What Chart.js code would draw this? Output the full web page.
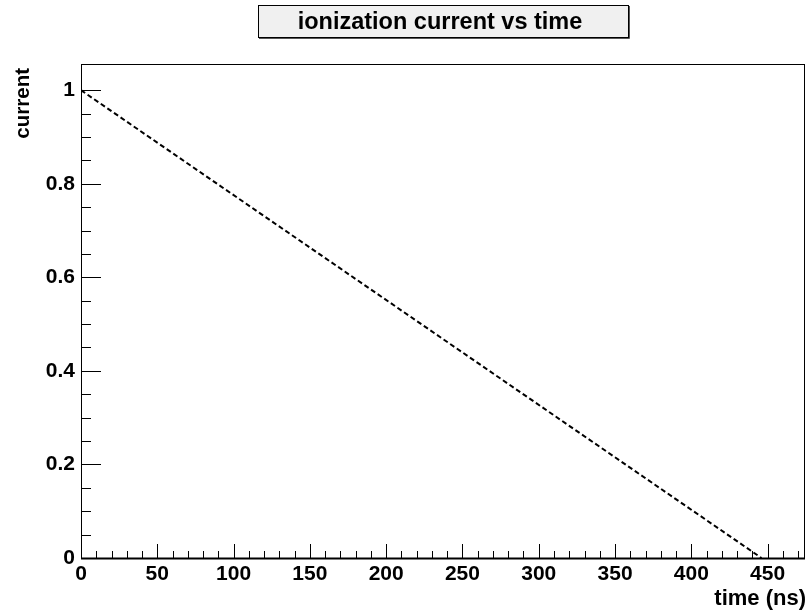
<!DOCTYPE html>
<html>
<head>
<meta charset="utf-8">
<script src="https://cdn.jsdelivr.net/npm/chart.js@4"></script>
<style>
html,body{margin:0;padding:0;background:#fff;}
canvas{display:block;}
</style>
</head>
<body>
<canvas id="c" width="807" height="611"></canvas>
<script>
// ---- data ----
const timeNs = [0, 446];
const currentVals = [1, 0];
const xTickVals = [0, 50, 100, 150, 200, 250, 300, 350, 400, 450];
const xTickLabels = ['0', '50', '100', '150', '200', '250', '300', '350', '400', '450'];
const yTickVals = [0, 0.2, 0.4, 0.6, 0.8, 1];
const yTickLabels = ['0', '0.2', '0.4', '0.6', '0.8', '1'];
const titleText = 'ionization current vs time';
const xTitle = 'time (ns)';
const yTitle = 'current';

const FONT = '"Liberation Sans", Arial, Helvetica, sans-serif';

const framePlugin = {
  id: 'frame',
  afterDraw(chart) {
    const ctx = chart.ctx;
    const a = chart.chartArea;
    const xs = chart.scales.x, ys = chart.scales.y;
    ctx.save();
    // frame
    ctx.strokeStyle = '#000';
    ctx.lineWidth = 1;
    ctx.strokeRect(Math.round(a.left) + 0.5, Math.round(a.top) + 0.5,
                   Math.round(a.right - a.left) - 1, Math.round(a.bottom - a.top));
    ctx.beginPath();
    ctx.lineWidth = 2;
    ctx.moveTo(a.left, Math.round(a.bottom) + 0.5);
    ctx.lineTo(a.right, Math.round(a.bottom) + 0.5);
    ctx.stroke();
    // x ticks
    ctx.lineWidth = 1;
    ctx.beginPath();
    for (let v = 0; v <= xs.max + 1e-9; v += 10) {
      const px = Math.round(xs.getPixelForValue(v)) + 0.5;
      const major = Math.abs(v % 50) < 1e-6;
      const len = major ? 14 : 7;
      ctx.moveTo(px, a.bottom);
      ctx.lineTo(px, a.bottom - len);
    }
    // y ticks
    for (let i = 0; i <= 20; i++) {
      const v = i * 0.05;
      if (v > ys.max) break;
      const py = Math.round(ys.getPixelForValue(v)) + 0.5;
      const major = i % 4 === 0;
      const len = major ? 20 : 10;
      ctx.moveTo(a.left, py);
      ctx.lineTo(a.left + len, py);
    }
    ctx.stroke();

    // axis titles
    ctx.fillStyle = '#000';
    ctx.textBaseline = 'alphabetic';
    ctx.font = 'bold 22px ' + FONT;
    ctx.textAlign = 'right';
    ctx.fillText(xTitle, a.right + 1, 605);
    ctx.save();
    ctx.font = 'bold 20.5px ' + FONT;
    ctx.translate(29, a.top + 4);
    ctx.rotate(-Math.PI / 2);
    ctx.textAlign = 'right';
    ctx.fillText(yTitle, 0, 0);
    ctx.restore();

    // title box
    const bx = 258, by = 5, bw = 370, bh = 32;
    ctx.fillStyle = '#f0f0f0';
    ctx.fillRect(bx, by, bw, bh);
    ctx.strokeStyle = '#000';
    ctx.lineWidth = 1;
    ctx.strokeRect(bx + 0.5, by + 0.5, bw, bh);
    ctx.strokeStyle = '#555';
    ctx.beginPath();
    ctx.moveTo(bx + bw + 1.5, by + 1);
    ctx.lineTo(bx + bw + 1.5, by + bh + 1.5);
    ctx.lineTo(bx + 1, by + bh + 1.5);
    ctx.stroke();
    ctx.fillStyle = '#000';
    ctx.font = 'bold 23.5px ' + FONT;
    ctx.textAlign = 'center';
    ctx.fillText(titleText, 440, 29);
    ctx.restore();
  }
};

new Chart(document.getElementById('c'), {
  type: 'scatter',
  data: {
    datasets: [{
      data: timeNs.map((t, i) => ({ x: t, y: currentVals[i] })),
      showLine: true,
      borderColor: '#000',
      borderWidth: 2,
      borderDash: [5, 3],
      pointRadius: 0,
      fill: false
    }]
  },
  options: {
    responsive: false,
    animation: false,
    devicePixelRatio: 1,
    layout: { padding: { top: 64, right: 2, left: 0, bottom: 0 } },
    plugins: { legend: { display: false }, title: { display: false }, tooltip: { enabled: false } },
    scales: {
      x: {
        type: 'linear', min: 0, max: 474.5,
        grid: { display: false, drawTicks: false },
        border: { display: false },
        afterBuildTicks: s => { s.ticks = xTickVals.map(v => ({ value: v })); },
        afterFit: s => { s.height = 53; },
        ticks: {
          autoSkip: false, maxRotation: 0, padding: 4,
          color: '#000',
          font: { family: FONT, size: 21, weight: 'bold' },
          callback: (v) => { const i = xTickVals.indexOf(v); return i >= 0 ? xTickLabels[i] : ''; }
        }
      },
      y: {
        type: 'linear', min: 0, max: 1.056,
        grid: { display: false, drawTicks: false },
        border: { display: false },
        afterBuildTicks: s => { s.ticks = yTickVals.map(v => ({ value: v })); },
        afterFit: s => { s.width = 81; },
        ticks: {
          autoSkip: false, padding: 6,
          color: '#000',
          font: { family: FONT, size: 21, weight: 'bold' },
          callback: (v) => { const i = yTickVals.findIndex(t => Math.abs(t - v) < 1e-9); return i >= 0 ? yTickLabels[i] : ''; }
        }
      }
    }
  },
  plugins: [framePlugin]
});
</script>
</body>
</html>
